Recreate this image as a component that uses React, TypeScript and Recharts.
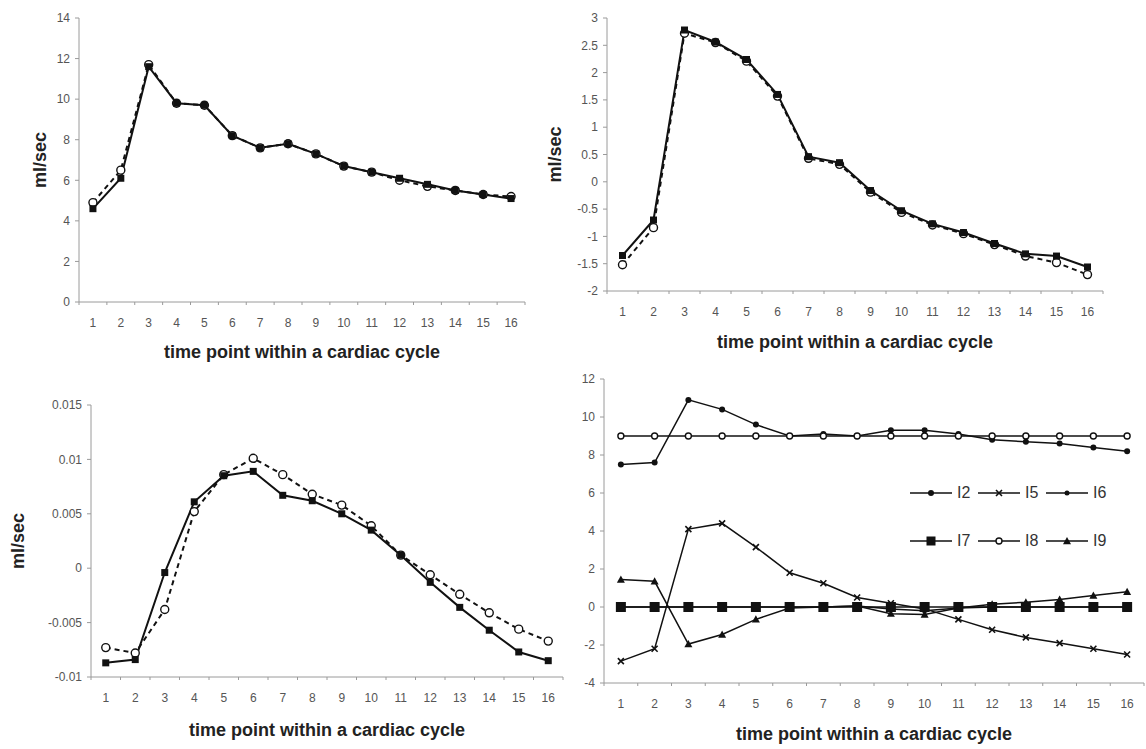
import React from 'react';
import { LineChart, Line, XAxis, YAxis, Legend } from 'recharts';

// time points within a cardiac cycle
const TIME_POINTS = [1, 2, 3, 4, 5, 6, 7, 8, 9, 10, 11, 12, 13, 14, 15, 16];

// top left panel (ml/sec)
const TL_SOLID = [4.6, 6.1, 11.6, 9.8, 9.7, 8.2, 7.6, 7.8, 7.3, 6.7, 6.4, 6.1, 5.8, 5.5, 5.3, 5.1];
const TL_DASHED = [4.9, 6.5, 11.7, 9.8, 9.7, 8.2, 7.6, 7.8, 7.3, 6.7, 6.4, 6.0, 5.7, 5.5, 5.3, 5.2];
const TL_TICKS = [0, 2, 4, 6, 8, 10, 12, 14];

// top right panel (ml/sec)
const TR_SOLID = [-1.35, -0.7, 2.78, 2.56, 2.24, 1.6, 0.46, 0.35, -0.16, -0.53, -0.77, -0.93, -1.13, -1.32, -1.36, -1.56];
const TR_DASHED = [-1.52, -0.84, 2.72, 2.55, 2.21, 1.57, 0.43, 0.32, -0.19, -0.56, -0.79, -0.95, -1.15, -1.36, -1.48, -1.7];
const TR_TICKS = [-2, -1.5, -1, -0.5, 0, 0.5, 1, 1.5, 2, 2.5, 3];

// bottom left panel (ml/sec)
const BL_SOLID = [-0.0087, -0.0084, -0.0004, 0.0061, 0.0085, 0.0089, 0.0067, 0.0062, 0.005, 0.0035, 0.0012, -0.0013, -0.0036, -0.0057, -0.0077, -0.0085];
const BL_DASHED = [-0.0073, -0.0078, -0.0038, 0.0052, 0.0086, 0.0101, 0.0086, 0.0068, 0.0058, 0.0039, 0.0012, -0.0006, -0.0024, -0.0041, -0.0056, -0.0067];
const BL_TICKS = [-0.01, -0.005, 0, 0.005, 0.01, 0.015];

// bottom right panel
const I2 = [7.5, 7.6, 10.9, 10.4, 9.6, 9.0, 9.1, 9.0, 9.3, 9.3, 9.1, 8.8, 8.7, 8.6, 8.4, 8.2];
const I5 = [-2.85, -2.2, 4.1, 4.4, 3.15, 1.8, 1.25, 0.5, 0.2, -0.1, -0.65, -1.2, -1.6, -1.9, -2.2, -2.5];
const I6 = [0, 0, 0, 0, 0, 0, 0, 0.05, -0.1, -0.2, -0.05, 0, 0, 0, 0, 0];
const I7 = [0, 0, 0, 0, 0, 0, 0, 0, 0, 0, 0, 0, 0, 0, 0, 0];
const I8 = [9, 9, 9, 9, 9, 9, 9, 9, 9, 9, 9, 9, 9, 9, 9, 9];
const I9 = [1.45, 1.35, -1.95, -1.45, -0.65, -0.05, 0, 0.05, -0.35, -0.4, -0.05, 0.15, 0.25, 0.4, 0.6, 0.8];
const BR_TICKS = [-4, -2, 0, 2, 4, 6, 8, 10, 12];

const BR_SERIES = [
  { key: 'I2', values: I2, shape: 'dot', size: 3 },
  { key: 'I5', values: I5, shape: 'cross', size: 3 },
  { key: 'I6', values: I6, shape: 'dot', size: 2.5 },
  { key: 'I7', values: I7, shape: 'square', size: 5 },
  { key: 'I8', values: I8, shape: 'open', size: 3 },
  { key: 'I9', values: I9, shape: 'triangle', size: 4 },
];

// category ticks plus the boundary marks between them
const X_TICKS = [0.5, ...TIME_POINTS.flatMap((t) => [t, t + 0.5])];

const FONT = '"Liberation Sans", Arial, sans-serif';
const INK = '#111';
const AXIS = '#9a9a9a';
const TICK_TEXT = '#555';
const X_TITLE = 'time point within a cardiac cycle';

const pairData = (solid: number[], dashed: number[]) =>
  TIME_POINTS.map((t, i) => ({ t, solid: solid[i], dashed: dashed[i] }));

const brData = TIME_POINTS.map((t, i) => {
  const row: any = { t };
  BR_SERIES.forEach((s) => (row[s.key] = s.values[i]));
  return row;
});

const Marker = ({ cx, cy, shape, size }: any) => {
  if (cx == null || cy == null) return null;
  const s = size;
  switch (shape) {
    case 'square':
      return <rect x={cx - s} y={cy - s} width={2 * s} height={2 * s} fill={INK} />;
    case 'open':
      return <circle cx={cx} cy={cy} r={s} fill="#fff" stroke={INK} strokeWidth={1.4} />;
    case 'triangle':
      return <path d={`M${cx},${cy - s}L${cx + s},${cy + s * 0.8}L${cx - s},${cy + s * 0.8}Z`} fill={INK} />;
    case 'cross':
      return (
        <path
          d={`M${cx - s},${cy - s}L${cx + s},${cy + s}M${cx - s},${cy + s}L${cx + s},${cy - s}`}
          stroke={INK}
          strokeWidth={1.6}
        />
      );
    default:
      return <circle cx={cx} cy={cy} r={s} fill={INK} />;
  }
};

const dotOf = (shape: string, size: number) => (p: any) =>
  <Marker key={`m-${p.index}`} cx={p.cx} cy={p.cy} shape={shape} size={size} />;

const TimeTick = (props: any) => {
  const { x, y, payload } = props;
  const v = payload.value;
  if (!Number.isInteger(v)) {
    return <line x1={x} x2={x} y1={y} y2={y + 3} stroke={AXIS} />;
  }
  return (
    <text x={x} y={y + 25} textAnchor="middle" fontSize={12} fill={TICK_TEXT} fontFamily={FONT}>
      {v}
    </text>
  );
};

const titleStyle = { fontFamily: FONT, fontWeight: 'bold', fontSize: 18, fill: '#222' } as any;

const xAxisProps = (height: number, offset: number) => ({
  type: 'number' as const,
  dataKey: 't',
  domain: [0.5, 16.5],
  ticks: X_TICKS,
  interval: 0 as const,
  tickLine: false,
  tickSize: 0,
  tickMargin: 0,
  tick: <TimeTick />,
  axisLine: { stroke: AXIS },
  height,
  label: { value: X_TITLE, position: 'insideBottom', offset, style: titleStyle },
});

const yAxisProps = (domain: number[], ticks: number[], width: number, labelOffset: number | null) => ({
  type: 'number' as const,
  domain,
  ticks,
  interval: 0 as const,
  width,
  tickSize: 4,
  tickMargin: 5,
  tick: { fontSize: 12, fill: TICK_TEXT, fontFamily: FONT },
  tickLine: { stroke: AXIS },
  axisLine: { stroke: AXIS },
  allowDataOverflow: true,
  label:
    labelOffset == null
      ? undefined
      : {
          value: 'ml/sec',
          angle: -90,
          position: 'insideLeft',
          offset: labelOffset,
          style: { ...titleStyle, textAnchor: 'middle' },
        },
});

const PairChart = ({ data, w, h, margin, xH, xOff, yDomain, yTicks, yW, yLabelOff, pos }: any) => (
  <div style={{ position: 'absolute', left: pos[0], top: pos[1] }}>
    <LineChart width={w} height={h} data={data} margin={margin}>
      <XAxis {...(xAxisProps(xH, xOff) as any)} />
      <YAxis {...(yAxisProps(yDomain, yTicks, yW, yLabelOff) as any)} />
      <Line
        dataKey="dashed"
        stroke={INK}
        strokeWidth={2}
        strokeDasharray="5 4"
        dot={dotOf('open', 4)}
        activeDot={false}
        isAnimationActive={false}
      />
      <Line
        dataKey="solid"
        stroke={INK}
        strokeWidth={2}
        dot={dotOf('square', 3.5)}
        activeDot={false}
        isAnimationActive={false}
      />
    </LineChart>
  </div>
);

const BrLegend = () => (
  <div style={{ display: 'flex', flexWrap: 'wrap', width: 210, fontFamily: FONT }}>
    {BR_SERIES.map((s) => (
      <div key={s.key} style={{ display: 'flex', alignItems: 'center', height: 48, width: 68 }}>
        <svg width={42} height={14}>
          <line x1={0} x2={42} y1={7} y2={7} stroke={INK} strokeWidth={1.5} />
          <Marker cx={21} cy={7} shape={s.shape} size={Math.min(s.size, 4.5)} />
        </svg>
        <span style={{ fontSize: 16, color: '#333', marginLeft: 5 }}>{s.key}</span>
      </div>
    ))}
  </div>
);

export default function App() {
  return (
    <div style={{ position: 'absolute', left: 0, top: 0, width: 1146, height: 749, background: '#fff' }}>
      <PairChart
        pos={[0, 0]}
        w={573}
        h={372}
        margin={{ top: 18, right: 48, bottom: 8, left: 10 }}
        data={pairData(TL_SOLID, TL_DASHED)}
        xH={62}
        xOff={6}
        yDomain={[0, 14]}
        yTicks={TL_TICKS}
        yW={69}
        yLabelOff={30}
      />
      <PairChart
        pos={[540, 0]}
        w={606}
        h={360}
        margin={{ top: 18, right: 43, bottom: 9, left: 3 }}
        data={pairData(TR_SOLID, TR_DASHED)}
        xH={60}
        xOff={3}
        yDomain={[-2, 3]}
        yTicks={TR_TICKS}
        yW={64}
        yLabelOff={12}
      />
      <PairChart
        pos={[0, 380]}
        w={573}
        h={369}
        margin={{ top: 25, right: 10, bottom: 10, left: 4 }}
        data={pairData(BL_SOLID, BL_DASHED)}
        xH={62}
        xOff={3}
        yDomain={[-0.01, 0.015]}
        yTicks={BL_TICKS}
        yW={87}
        yLabelOff={14}
      />
      <div style={{ position: 'absolute', left: 540, top: 370 }}>
        <LineChart width={606} height={379} data={brData} margin={{ top: 9, right: 2, bottom: 6, left: 10 }}>
          <XAxis {...(xAxisProps(60, 3) as any)} />
          <YAxis {...(yAxisProps([-4, 12], BR_TICKS, 54, null) as any)} />
          <Legend
            layout="horizontal"
            verticalAlign="middle"
            align="center"
            content={<BrLegend />}
            wrapperStyle={{ left: 370, top: 99, width: 210 }}
          />
          {BR_SERIES.map((s) => (
            <Line
              key={s.key}
              dataKey={s.key}
              stroke={INK}
              strokeWidth={1.5}
              dot={dotOf(s.shape, s.size)}
              activeDot={false}
              isAnimationActive={false}
            />
          ))}
        </LineChart>
      </div>
    </div>
  );
}
